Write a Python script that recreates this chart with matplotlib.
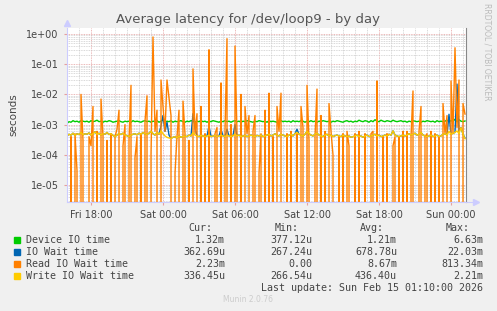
import numpy as np
import pandas as pd
import matplotlib
matplotlib.use("Agg")
from matplotlib import pyplot as plt
import matplotlib.dates as mdates
from matplotlib.ticker import LogLocator, FuncFormatter, NullFormatter

# 10 minute samples, Fri 16:00 -> Sun 01:10 (values in ms)
start = "2026-02-13 16:00"
n_points = 200

device_ms = [
    1.10, 1.25, 1.20, 1.35, 1.25, 1.30, 1.20, 1.35, 1.30, 1.25,
    1.30, 1.20, 1.35, 1.25, 1.30, 1.40, 1.25, 1.30, 1.20, 1.30,
    1.25, 1.35, 1.30, 1.20, 1.25, 1.30, 1.35, 1.25, 1.20, 1.30,
    1.25, 1.30, 1.20, 1.35, 1.25, 1.30, 1.25, 1.20, 1.30, 1.35,
    1.25, 1.30, 1.20, 1.30, 1.25, 1.35, 1.20, 1.30, 1.45, 1.20,
    1.30, 1.25, 1.35, 1.20, 1.30, 1.25, 1.30, 1.35, 1.25, 1.20,
    1.30, 1.25, 1.35, 1.30, 1.20, 1.30, 1.25, 1.35, 1.25, 1.30,
    1.20, 1.30, 1.25, 1.35, 1.30, 1.25, 1.20, 1.30, 1.25, 1.35,
    1.25, 1.30, 1.20, 1.30, 1.35, 1.25, 1.30, 1.20, 1.30, 1.25,
    1.35, 1.30, 1.25, 1.20, 1.30, 1.25, 1.35, 1.30, 1.25, 1.30,
    1.20, 1.35, 1.25, 1.30, 1.25, 1.20, 1.30, 1.35, 1.25, 1.30,
    1.25, 1.30, 1.20, 1.35, 1.25, 1.30, 1.25, 1.35, 1.30, 1.20,
    1.30, 1.25, 1.35, 1.25, 1.30, 1.20, 1.30, 1.25, 1.35, 1.30,
    1.25, 1.30, 1.20, 1.30, 1.25, 1.35, 1.30, 1.25, 1.20, 1.30,
    1.35, 1.25, 1.30, 1.20, 1.30, 1.25, 1.40, 1.30, 1.25, 1.35,
    1.30, 1.20, 1.35, 1.25, 1.45, 1.30, 1.25, 1.40, 1.30, 1.25,
    1.35, 1.30, 1.25, 1.40, 1.30, 1.25, 1.30, 1.35, 1.25, 1.30,
    1.20, 1.30, 1.25, 1.35, 1.30, 1.25, 1.30, 1.20, 1.30, 1.25,
    1.35, 1.30, 1.25, 1.30, 1.20, 1.35, 1.25, 1.30, 1.25, 1.30,
    1.40, 1.25, 1.35, 1.30, 1.50, 1.25, 1.45, 1.30, 1.25, 1.32,
]

read_ms = [
    0.5, 0, 0.4, 0, 0.5, 0.03, 0, 10.0, 0.3, 0,
    0, 0.4, 0.2, 4.0, 0, 0.6, 0, 7.0, 0.4, 0,
    0.3, 0, 0.5, 0, 0.4, 0.7, 3.0, 0, 0.2, 1.0,
    0, 0.3, 20.0, 0, 0.08, 0.4, 0, 0.5, 0, 1.3,
    9.0, 0, 0.1, 800.0, 0.6, 3.0, 0, 30.0, 4.0, 0.6,
    30.0, 8.0, 2.0, 0, 0.025, 0.4, 3.0, 0, 6.0, 0.5,
    0, 0.3, 0, 70.0, 0.5, 2.3, 0, 4.0, 0, 0.5,
    0, 300.0, 0, 0, 0.5, 0.8, 0, 24.0, 0, 0.6,
    700.0, 0, 1.0, 0, 400.0, 0.5, 0, 10.0, 0, 4.0,
    0.5, 2.0, 0, 0.6, 2.0, 0, 0.025, 0.5, 0, 3.0,
    0, 11.0, 0, 0.4, 0, 4.0, 0.6, 11.0, 0, 0,
    0.5, 0, 0.6, 0, 0, 0.5, 0, 4.0, 0.8, 0,
    20.0, 0.3, 0, 0, 0.4, 15.0, 0, 2.0, 0, 0.6,
    0, 5.0, 0.6, 0.1, 0, 0, 0.4, 0, 0.5, 0,
    0.6, 0.2, 0, 0, 0.5, 0, 0.6, 0, 0, 0.5,
    0, 0, 0.5, 0.6, 0, 28.0, 0, 0, 0.4, 0,
    0.5, 0, 0, 0.2, 0.4, 0, 0.4, 0, 0.6, 0,
    0.6, 0, 0.4, 13.0, 0, 0, 0.6, 4.0, 0, 0.4,
    0.5, 0, 0.6, 0, 0.5, 0, 0.4, 0, 5.0, 0.5,
    2.0, 0, 28.0, 0.5, 350.0, 0.8, 30.0, 0, 5.0, 2.23,
]

write_ms = [
    0.42, 0.48, 0.45, 0.52, 0.44, 0.50, 0.47, 0.55, 0.46, 0.50,
    0.48, 0.53, 0.45, 0.50, 0.58, 0.47, 0.52, 0.45, 0.50, 0.48,
    0.55, 0.47, 0.50, 0.44, 0.40, 0.45, 0.50, 0.47, 0.52, 0.45,
    0.43, 0.40, 0.45, 0.48, 0.50, 0.46, 0.52, 0.48, 0.55, 0.50,
    0.47, 0.52, 0.60, 0.50, 0.45, 0.55, 0.48, 0.62, 0.50, 0.42,
    0.38, 0.36, 0.35, 0.38, 0.40, 0.36, 0.42, 0.38, 0.40, 0.42,
    0.40, 0.45, 0.42, 0.55, 0.45, 0.42, 0.40, 0.44, 0.42, 0.40,
    0.42, 0.45, 0.40, 0.42, 0.44, 0.40, 0.42, 0.45, 0.42, 0.40,
    0.45, 0.42, 0.40, 0.43, 0.48, 0.42, 0.45, 0.40, 0.42, 0.44,
    0.40, 0.42, 0.45, 0.42, 0.40, 0.44, 0.42, 0.45, 0.40, 0.42,
    0.45, 0.48, 0.42, 0.45, 0.50, 0.44, 0.42, 0.48, 0.45, 0.42,
    0.40, 0.45, 0.48, 0.42, 0.50, 0.55, 0.48, 0.45, 0.42, 0.48,
    0.60, 0.50, 0.45, 0.42, 0.48, 0.52, 0.45, 0.42, 0.40, 0.45,
    0.48, 0.42, 0.45, 0.40, 0.43, 0.45, 0.42, 0.40, 0.45, 0.42,
    0.40, 0.42, 0.38, 0.40, 0.42, 0.45, 0.40, 0.42, 0.38, 0.42,
    0.45, 0.40, 0.42, 0.45, 0.48, 0.42, 0.45, 0.40, 0.42, 0.45,
    0.42, 0.48, 0.45, 0.62, 0.45, 0.42, 0.40, 0.42, 0.45, 0.42,
    0.45, 0.50, 0.45, 0.48, 0.52, 0.45, 0.48, 0.55, 0.45, 0.42,
    0.40, 0.42, 0.45, 0.40, 0.42, 0.45, 0.40, 0.42, 0.48, 0.50,
    0.45, 0.60, 0.48, 0.52, 0.55, 0.62, 0.50, 0.80, 0.48, 0.34,
]

iowait_ms = [
    0.42, 0.48, 0.45, 0.52, 0.44, 0.50, 0.47, 0.55, 0.46, 0.50,
    0.48, 0.53, 0.45, 0.50, 0.58, 0.47, 0.52, 0.45, 0.50, 0.48,
    0.55, 0.47, 0.50, 0.44, 0.40, 0.45, 0.50, 0.47, 0.52, 0.45,
    0.43, 0.40, 0.45, 0.48, 0.50, 0.46, 0.52, 0.48, 0.55, 0.50,
    0.47, 0.52, 0.60, 0.50, 0.45, 0.55, 0.48, 0.90, 2.00, 0.60,
    1.20, 0.45, 0.35, 0.38, 0.40, 0.36, 0.42, 0.38, 0.40, 0.42,
    0.40, 0.45, 0.42, 2.30, 0.80, 0.42, 0.40, 0.44, 0.42, 0.40,
    0.42, 0.90, 0.40, 0.42, 0.44, 0.40, 0.42, 0.70, 0.42, 0.40,
    0.70, 0.42, 0.40, 0.43, 1.00, 0.42, 0.45, 0.40, 0.42, 0.44,
    0.40, 0.42, 0.45, 0.42, 0.40, 0.44, 0.42, 0.45, 0.40, 0.42,
    0.45, 0.48, 0.42, 0.45, 0.50, 0.44, 0.42, 0.48, 0.45, 0.42,
    0.40, 0.45, 0.48, 0.42, 0.50, 0.70, 0.48, 0.45, 0.42, 0.48,
    0.60, 0.50, 0.45, 0.42, 0.48, 0.52, 0.45, 0.42, 0.40, 0.45,
    0.48, 0.42, 0.45, 0.40, 0.43, 0.45, 0.42, 0.40, 0.45, 0.42,
    0.40, 0.42, 0.38, 0.40, 0.42, 0.45, 0.40, 0.42, 0.38, 0.42,
    0.45, 0.40, 0.42, 0.45, 0.48, 0.42, 0.45, 0.40, 0.42, 0.45,
    0.42, 0.48, 0.45, 0.62, 0.45, 0.42, 0.40, 0.42, 0.45, 0.42,
    0.45, 0.50, 0.45, 0.48, 0.52, 0.45, 0.48, 0.55, 0.45, 0.42,
    0.40, 0.42, 0.45, 0.40, 0.42, 0.45, 0.40, 0.42, 0.48, 0.50,
    0.45, 2.20, 0.48, 0.52, 0.55, 22.0, 0.60, 0.80, 0.48, 0.36,
]

labels = ["Device IO time", "IO Wait time", "Read IO Wait time", "Write IO Wait time"]
colors = ["#00CC00", "#0066B3", "#FF8000", "#FFCC00"]
stat_cur = ["1.32m", "362.69u", "2.23m", "336.45u"]
stat_min = ["377.12u", "267.24u", "0.00", "266.54u"]
stat_avg = ["1.21m", "678.78u", "8.67m", "436.40u"]
stat_max = ["6.63m", "22.03m", "813.34m", "2.21m"]

times = pd.date_range(start, periods=n_points, freq="10min")
series = [np.array(s) / 1000.0 for s in (device_ms, iowait_ms, read_ms, write_ms)]

bg = "#F0F0F0"
txt = "#444444"
axis_col = "#CCCCFF"

fig = plt.figure(figsize=(4.97, 3.11), dpi=100, facecolor=bg)
ax = fig.add_axes([67 / 497, 1 - 202 / 311, 399 / 497, 174 / 311])
ax.set_facecolor("white")

for vals, c in zip(series, colors):
    ax.plot(times, vals, color=c, lw=1.0)

ax.set_yscale("log")
ax.set_ylim(2.74e-6, 1.58)
ax.set_xlim(pd.Timestamp("2026-02-13 16:00"), pd.Timestamp("2026-02-15 01:15"))

ax.yaxis.set_major_locator(LogLocator(base=10, numticks=10))
ax.yaxis.set_minor_locator(LogLocator(base=10, subs=np.arange(2, 10), numticks=20))
ax.yaxis.set_major_formatter(FuncFormatter(lambda v, p: f"{v:.0e}"))
ax.yaxis.set_minor_formatter(NullFormatter())

ax.xaxis.set_major_locator(mdates.HourLocator(byhour=[0, 6, 12, 18]))
ax.xaxis.set_minor_locator(mdates.HourLocator())
ax.xaxis.set_major_formatter(mdates.DateFormatter("%a %H:%M"))

ax.grid(which="minor", color="#CCCCCC", ls=(0, (1, 1)), lw=0.6)
ax.grid(which="major", color="#E5A0A0", ls=(0, (1, 1)), lw=0.6)
ax.set_axisbelow(True)

ax.tick_params(which="both", length=0, labelsize=7, colors=txt, pad=4)
ax.tick_params(axis="y", which="major", length=2, color="#E5A0A0", direction="out")
ax.tick_params(axis="x", which="major", length=2, color="#E5A0A0", direction="out")

ax.spines["top"].set_visible(False)
ax.spines["left"].set_color(axis_col)
ax.spines["bottom"].set_color(axis_col)
ax.spines["right"].set_color("#888888")

# axis arrows like rrdtool
ax.plot([0], [1.03], marker="^", ms=4, color=axis_col, transform=ax.transAxes, clip_on=False)
ax.plot([1.0, 1.02], [0, 0], color=axis_col, lw=0.8, transform=ax.transAxes, clip_on=False)
ax.plot([1.025], [0], marker=">", ms=4, color=axis_col, transform=ax.transAxes, clip_on=False)

ax.set_ylabel("seconds", fontsize=7.5, color=txt, labelpad=6)
fig.text(248 / 497, 1 - 19 / 311, "Average latency for /dev/loop9 - by day",
         ha="center", va="center", fontsize=9.5, color="#555555")
fig.text(487 / 497, 1 - 52 / 311, "RRDTOOL / TOBI OETIKER", rotation=270,
         ha="center", va="center", fontsize=5.5, color="#BBBBBB")

mono = "DejaVu Sans Mono"
fs = 7.2
hy = 228
fig.text(212 / 497, 1 - hy / 311, "Cur:", ha="right", va="center", family=mono, fontsize=fs, color=txt)
fig.text(299 / 497, 1 - hy / 311, "Min:", ha="right", va="center", family=mono, fontsize=fs, color=txt)
fig.text(384 / 497, 1 - hy / 311, "Avg:", ha="right", va="center", family=mono, fontsize=fs, color=txt)
fig.text(470 / 497, 1 - hy / 311, "Max:", ha="right", va="center", family=mono, fontsize=fs, color=txt)

for i, lab in enumerate(labels):
    y = 1 - (240 + 12 * i) / 311
    fig.patches.append(plt.Rectangle((14 / 497, y - 3 / 311), 6 / 497, 6 / 311,
                                     transform=fig.transFigure, color=colors[i]))
    fig.text(26 / 497, y, lab, ha="left", va="center", family=mono, fontsize=fs, color=txt)
    fig.text(225 / 497, y, stat_cur[i], ha="right", va="center", family=mono, fontsize=fs, color=txt)
    fig.text(312 / 497, y, stat_min[i], ha="right", va="center", family=mono, fontsize=fs, color=txt)
    fig.text(397 / 497, y, stat_avg[i], ha="right", va="center", family=mono, fontsize=fs, color=txt)
    fig.text(483 / 497, y, stat_max[i], ha="right", va="center", family=mono, fontsize=fs, color=txt)

fig.text(483 / 497, 1 - 288 / 311, "Last update: Sun Feb 15 01:10:00 2026", ha="right", va="center",
         family=mono, fontsize=fs, color=txt)
fig.text(248 / 497, 1 - 300 / 311, "Munin 2.0.76", ha="center", va="center", fontsize=5.5, color="#CCCCCC")

fig.savefig("out.png", dpi=100, facecolor=bg)
